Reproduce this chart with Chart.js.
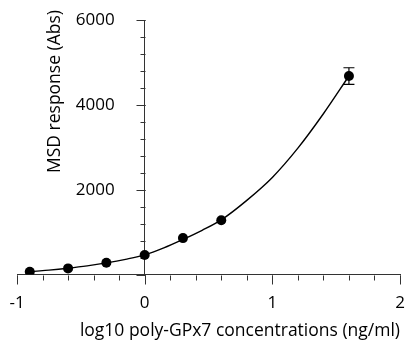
<!DOCTYPE html>
<html>
<head>
<meta charset="utf-8">
<script src="https://cdn.jsdelivr.net/npm/chart.js@4.4.1/dist/chart.umd.min.js"></script>
<style>
  html, body { margin: 0; padding: 0; background: #fff; }
  #wrap { width: 407px; height: 343px; }
</style>
</head>
<body>
<div id="wrap"><canvas id="chart"></canvas></div>
<script>
// measured points (log10 concentration vs MSD response)
const pointX = [-0.9, -0.6, -0.3, 0, 0.3, 0.6, 1.6];
const pointY = [66, 146, 278, 460, 860, 1280, 4680];
const pointErr = [0, 0, 0, 0, 0, 0, 195]; // only the top point shows a visible bar

// fitted curve
const curveX = [-0.93, -0.9, -0.75, -0.6, -0.45, -0.3, -0.15, 0, 0.15, 0.3, 0.45, 0.6, 0.8, 1.0, 1.2, 1.4, 1.6];
const curveY = [60, 70, 105, 150, 205, 275, 360, 465, 630, 830, 1045, 1290, 1750, 2290, 2980, 3790, 4680];

const xMin = -1, xMax = 2, xStep = 1, xMinorStep = 0.2;
const yMin = 0, yMax = 6000, yStep = 2000, yMinorStep = 400;

const xTitle = 'log10 poly-GPx7 concentrations (ng/ml)';
const yTitle = 'MSD response (Abs)';

const AXIS = '#333';
const FAMILY = '"Open Sans", sans-serif';
const TICK_SIZE = 17;
const TITLE_SIZE = 17.5;
const MAJOR_LEN = 9, MINOR_LEN = 5;

Chart.defaults.font.family = FAMILY;
Chart.defaults.font.size = TICK_SIZE;
Chart.defaults.color = '#000';

const toXY = (xs, ys) => xs.map((x, i) => ({ x, y: ys[i] }));
const crisp = (p) => Math.round(p) + 0.5;

const errorSets = [];
pointErr.forEach((e, i) => {
  if (!e) return;
  errorSets.push({
    type: 'line',
    data: [{ x: pointX[i], y: pointY[i] - e }, { x: pointX[i], y: pointY[i] + e }],
    borderColor: '#000',
    borderWidth: 1.2,
    pointStyle: 'line',
    pointRadius: 5.5,
    pointBorderWidth: 1.2,
    pointBorderColor: '#000',
    order: 1
  });
});

// tick marks + y labels for the axis that crosses at x = 0
const axisPlugin = {
  id: 'axisMarks',
  beforeDatasetsDraw(chart) {
    const { ctx, scales } = chart;
    const x0 = crisp(scales.x.getPixelForValue(0));
    const y0 = crisp(scales.y.getPixelForValue(0));
    ctx.save();
    ctx.strokeStyle = AXIS;
    ctx.lineWidth = 1;
    ctx.beginPath();
    scales.xMinor.ticks.forEach((t) => {
      const px = crisp(scales.x.getPixelForValue(t.value));
      ctx.moveTo(px, y0);
      ctx.lineTo(px, y0 + MINOR_LEN);
    });
    scales.x.ticks.forEach((t) => {
      const px = crisp(scales.x.getPixelForValue(t.value));
      ctx.moveTo(px, y0);
      ctx.lineTo(px, y0 + MAJOR_LEN);
    });
    scales.yMinor.ticks.forEach((t) => {
      const py = crisp(scales.y.getPixelForValue(t.value));
      ctx.moveTo(x0, py);
      ctx.lineTo(x0 - MINOR_LEN, py);
    });
    scales.y.ticks.forEach((t) => {
      const py = crisp(scales.y.getPixelForValue(t.value));
      ctx.moveTo(x0, py);
      ctx.lineTo(x0 - MAJOR_LEN, py);
    });
    ctx.stroke();
    ctx.restore();
  },
  afterDraw(chart) {
    const { ctx, chartArea, scales } = chart;
    const x0 = scales.x.getPixelForValue(0);
    ctx.save();
    ctx.fillStyle = '#000';
    ctx.font = `${TICK_SIZE}px ${FAMILY}`;
    ctx.textAlign = 'right';
    ctx.textBaseline = 'middle';
    scales.y.ticks.forEach((t) => {
      if (t.value === 0) return;
      ctx.fillText(String(t.value), x0 - 30, scales.y.getPixelForValue(t.value));
    });
    // y title, reading upwards, top end a little above the axis
    ctx.translate(x0 - 90, chartArea.top - 10);
    ctx.rotate(-Math.PI / 2);
    ctx.font = `${TITLE_SIZE}px ${FAMILY}`;
    ctx.fillText(yTitle, 0, 0);
    ctx.restore();
  }
};

const hiddenGrid = { display: false, drawTicks: false };

new Chart(document.getElementById('chart'), {
  type: 'scatter',
  data: {
    datasets: [
      {
        data: toXY(pointX, pointY),
        backgroundColor: '#000',
        borderColor: '#000',
        pointRadius: 5,
        pointBorderWidth: 0,
        order: 0
      },
      ...errorSets,
      {
        type: 'line',
        data: toXY(curveX, curveY),
        borderColor: '#000',
        borderWidth: 1.4,
        pointRadius: 0,
        cubicInterpolationMode: 'monotone',
        order: 2
      }
    ]
  },
  options: {
    responsive: true,
    maintainAspectRatio: false,
    animation: false,
    layout: { padding: { left: 17, right: 7, top: 20, bottom: 1 } },
    plugins: { legend: { display: false }, tooltip: { enabled: false } },
    scales: {
      x: {
        type: 'linear',
        min: xMin, max: xMax,
        position: 'bottom',
        ticks: { stepSize: xStep, padding: 1, callback: (v) => String(v) },
        // invisible tick length only pushes the labels down; marks come from the plugin
        grid: { display: false, drawTicks: true, tickLength: 17 },
        border: { color: AXIS, width: 1 },
        title: { display: true, text: xTitle, align: 'end', font: { size: TITLE_SIZE }, padding: { top: 7, bottom: 0 } }
      },
      xMinor: {
        type: 'linear',
        min: xMin, max: xMax,
        position: { y: 0 },
        ticks: { stepSize: xMinorStep, display: false },
        grid: hiddenGrid,
        border: { display: false }
      },
      y: {
        type: 'linear',
        min: yMin, max: yMax,
        position: { x: 0 },
        ticks: { stepSize: yStep, display: false },
        grid: hiddenGrid,
        border: { color: AXIS, width: 1 }
      },
      yMinor: {
        type: 'linear',
        min: yMin, max: yMax,
        position: { x: 0 },
        ticks: { stepSize: yMinorStep, display: false },
        grid: hiddenGrid,
        border: { display: false }
      }
    }
  },
  plugins: [axisPlugin]
});
</script>
</body>
</html>
